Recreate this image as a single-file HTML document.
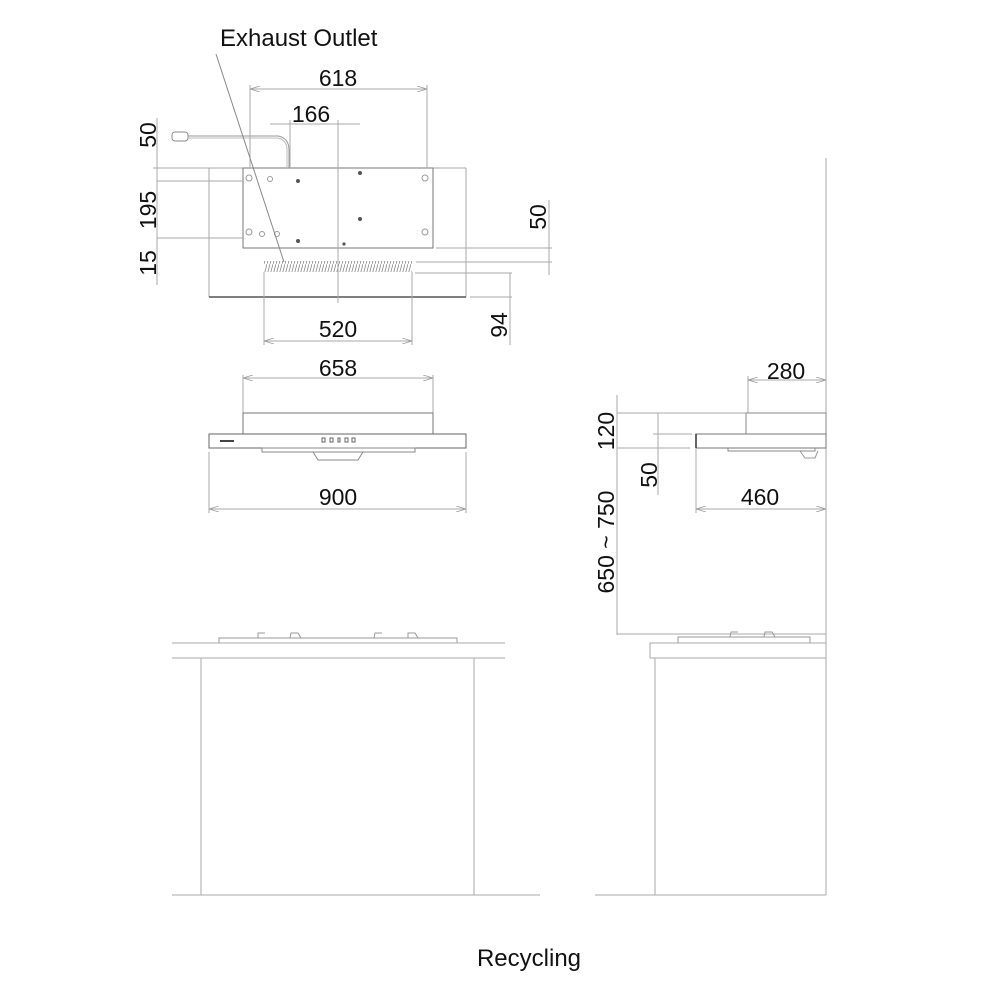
<!DOCTYPE html>
<html><head><meta charset="utf-8"><style>
html,body{margin:0;padding:0;background:#fff}
svg{display:block}
text{font-family:"Liberation Sans",sans-serif;fill:#111}
</style></head><body>
<svg width="1000" height="1000" viewBox="0 0 1000 1000" xmlns="http://www.w3.org/2000/svg">
<defs>
<marker id="a" viewBox="0 0 10 6" refX="10" refY="3" markerWidth="10" markerHeight="6" orient="auto-start-reverse" markerUnits="userSpaceOnUse"><path d="M0,0 L10,3 L0,6" fill="none" stroke="#999" stroke-width="0.8"/></marker>
<pattern id="h" width="3" height="11" patternUnits="userSpaceOnUse"><path d="M0,11 L3,0" stroke="#888" stroke-width="0.8"/></pattern>
</defs>
<g fill="none" stroke="#aaa" stroke-width="1">
<line x1="209" y1="168" x2="209" y2="297"/>
<line x1="466" y1="168" x2="466" y2="297"/>
<line x1="209" y1="168" x2="466" y2="168"/>
<line x1="209" y1="297" x2="466" y2="297" stroke="#555" stroke-width="1.5"/>
<rect x="243" y="168" width="190" height="80" stroke="#777"/>
<rect x="264" y="261" width="148" height="11" fill="url(#h)" stroke="none"/>
<line x1="338" y1="120" x2="338" y2="303"/>
<line x1="250" y1="85" x2="250" y2="168"/><line x1="427" y1="85" x2="427" y2="168"/>
<line x1="250" y1="89" x2="427" y2="89" marker-start="url(#a)" marker-end="url(#a)"/>
<line x1="290" y1="120" x2="290" y2="168"/>
<line x1="270" y1="124" x2="360" y2="124"/>
<rect x="172" y="132" width="16" height="9" rx="3" stroke="#888"/>
<path d="M188,136 L278,136 Q289,138 289,150 L289,168" stroke="#999"/>
<path d="M188,138 L278,138 Q287,140 287,150 L287,168" stroke="#bbb"/>
<g fill="#555" stroke="none">
<circle cx="360" cy="173" r="2"/><circle cx="360" cy="219" r="2"/><circle cx="298" cy="181" r="2"/><circle cx="298" cy="241" r="2"/><circle cx="344" cy="244" r="1.6"/>
</g>
<g stroke="#999"><circle cx="249" cy="178" r="3"/><circle cx="425" cy="178" r="3"/><circle cx="249" cy="232" r="3"/><circle cx="425" cy="232" r="3"/><circle cx="270" cy="179" r="2.5"/><circle cx="262" cy="234" r="2.5"/><circle cx="277" cy="234" r="2.5"/></g>
<line x1="216" y1="54" x2="284" y2="262" stroke="#888"/>
<line x1="157" y1="118" x2="157" y2="285"/>
<line x1="153" y1="168" x2="240" y2="168"/>
<line x1="157" y1="181" x2="243" y2="181"/>
<line x1="157" y1="238" x2="243" y2="238"/>
<line x1="436" y1="248" x2="552" y2="248"/>
<line x1="416" y1="262" x2="552" y2="262"/>
<line x1="549" y1="200" x2="549" y2="275"/>
<line x1="415" y1="273" x2="512" y2="273"/>
<line x1="470" y1="297" x2="512" y2="297"/>
<line x1="510" y1="273" x2="510" y2="345"/>
<line x1="264" y1="272" x2="264" y2="345"/><line x1="412" y1="272" x2="412" y2="345"/>
<line x1="264" y1="341" x2="412" y2="341" marker-start="url(#a)" marker-end="url(#a)"/>
<line x1="243" y1="375" x2="243" y2="413"/><line x1="433" y1="375" x2="433" y2="413"/>
<line x1="243" y1="378" x2="433" y2="378" marker-start="url(#a)" marker-end="url(#a)"/>
<rect x="243" y="413" width="190" height="21" stroke="#777"/>
<rect x="209" y="434" width="257" height="14" stroke="#666"/>
<rect x="262" y="448" width="153" height="4" stroke="#888"/>
<path d="M313,452 L318,460 L358,460 L363,452" stroke="#888"/>
<line x1="209" y1="452" x2="209" y2="513"/><line x1="466" y1="452" x2="466" y2="513"/>
<line x1="209" y1="509" x2="466" y2="509" marker-start="url(#a)" marker-end="url(#a)"/>
<g stroke="#666"><rect x="322" y="438" width="3" height="4"/><rect x="330" y="438" width="3" height="4"/><rect x="338" y="438" width="2" height="4"/><rect x="345" y="438" width="3" height="4"/><rect x="352" y="438" width="3" height="4"/></g>
<line x1="220" y1="441" x2="234" y2="441" stroke="#444" stroke-width="2"/>
<line x1="826" y1="158" x2="826" y2="895"/>
<line x1="748" y1="376" x2="748" y2="413"/>
<line x1="748" y1="380" x2="826" y2="380" marker-start="url(#a)" marker-end="url(#a)"/>
<rect x="746" y="413" width="80" height="21" stroke="#888"/>
<rect x="696" y="434" width="130" height="14" stroke="#777"/>
<line x1="696" y1="434" x2="696" y2="448" stroke="#333" stroke-width="1.5"/>
<path d="M728,448 L728,451 L815,451 L815,448" stroke="#888"/>
<path d="M800,451 L805,458 L815,458 L818,451" stroke="#999"/>
<line x1="696" y1="448" x2="696" y2="513"/>
<line x1="696" y1="509" x2="826" y2="509" marker-start="url(#a)" marker-end="url(#a)"/>
<line x1="617" y1="395" x2="617" y2="635"/>
<line x1="617" y1="413" x2="746" y2="413"/>
<line x1="617" y1="448" x2="690" y2="448"/>
<line x1="658" y1="413" x2="658" y2="495"/>
<line x1="653" y1="434" x2="692" y2="434"/>
<line x1="617" y1="634" x2="826" y2="634"/>
<path d="M219,643 L219,638 L457,638 L457,643" stroke="#999"/>
<path d="M258,638 L258,633 L265,633 M290,638 L291,633 L298,633 L301,638 M374,638 L375,633 L382,633 M408,638 L408,633 L415,633 L418,638" stroke="#999"/>
<line x1="172" y1="643" x2="505" y2="643"/>
<line x1="172" y1="658" x2="505" y2="658"/>
<line x1="201" y1="658" x2="201" y2="895"/>
<line x1="474" y1="658" x2="474" y2="895"/>
<line x1="172" y1="895" x2="540" y2="895"/>
<path d="M678,643 L678,637 L810,637 L810,643" stroke="#999"/>
<path d="M730,637 L731,632 L738,632 M764,637 L765,632 L772,632 L775,637" stroke="#999"/>
<rect x="650" y="643" width="176" height="15"/>
<line x1="655" y1="658" x2="655" y2="895"/>
<line x1="595" y1="895" x2="826" y2="895"/>
</g>
<g font-size="23">
<text x="220" y="46" font-size="24">Exhaust Outlet</text>
<text x="338" y="86" text-anchor="middle">618</text>
<text x="311" y="122" text-anchor="middle">166</text>
<text x="338" y="337" text-anchor="middle">520</text>
<text x="338" y="376" text-anchor="middle">658</text>
<text x="338" y="505" text-anchor="middle">900</text>
<text x="786" y="379" text-anchor="middle">280</text>
<text x="760" y="505" text-anchor="middle">460</text>
<text x="529" y="966" text-anchor="middle" font-size="24">Recycling</text>
<text transform="translate(156,135) rotate(-90)" text-anchor="middle">50</text>
<text transform="translate(156,210) rotate(-90)" text-anchor="middle">195</text>
<text transform="translate(156,263) rotate(-90)" text-anchor="middle">15</text>
<text transform="translate(546,217) rotate(-90)" text-anchor="middle">50</text>
<text transform="translate(507,325) rotate(-90)" text-anchor="middle">94</text>
<text transform="translate(614,431) rotate(-90)" text-anchor="middle">120</text>
<text transform="translate(657,475) rotate(-90)" text-anchor="middle">50</text>
<text transform="translate(614,542) rotate(-90)" text-anchor="middle">650 ~ 750</text>
</g>
</svg>
</body></html>
